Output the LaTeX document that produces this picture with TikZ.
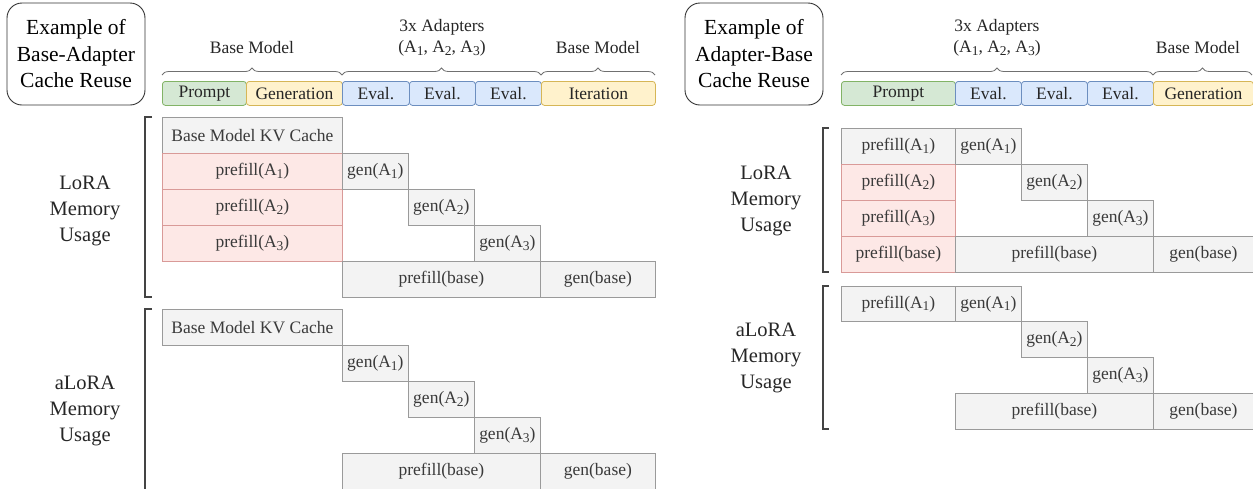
\documentclass[tikz,border=0pt]{standalone}
\usepackage{fontspec}
\setmainfont{Liberation Serif}
\usetikzlibrary{decorations.pathreplacing}
\newcommand\mysub[1]{\raisebox{-0.32ex}{\fontsize{13.5}{14}\selectfont #1}}
\definecolor{cellgray}{HTML}{F3F3F3}
\definecolor{cellline}{HTML}{9A9A9A}
\definecolor{redfill}{HTML}{FDE8E6}
\definecolor{redline}{HTML}{D99A98}
\definecolor{greenfill}{HTML}{D5E8D4}
\definecolor{greenline}{HTML}{82B366}
\definecolor{yellowfill}{HTML}{FFF2CC}
\definecolor{yellowline}{HTML}{D6B656}
\definecolor{bluefill}{HTML}{DAE8FC}
\definecolor{blueline}{HTML}{6C8EBF}
\definecolor{txt}{HTML}{3A3A3A}
\definecolor{bracecol}{HTML}{707070}
\definecolor{bracketcol}{HTML}{444444}
\tikzset{
  cell/.style={draw=cellline, fill=cellgray, line width=0.8pt, inner sep=0pt, anchor=north west,
    minimum height=36pt, text=txt, font=\fontsize{17.5}{20}\selectfont},
  redcell/.style={cell, draw=redline, fill=redfill},
  hdr/.style={rounded corners=3pt, line width=0.8pt, inner sep=0pt, anchor=north west,
    minimum height=24pt, text=black!85, font=\fontsize{17.5}{20}\selectfont},
  prompthdr/.style={hdr, draw=greenline, fill=greenfill},
  genhdr/.style={hdr, draw=yellowline, fill=yellowfill},
  evalhdr/.style={hdr, draw=blueline, fill=bluefill},
  titlebox/.style={draw=black!80, line width=0.9pt, rounded corners=15pt, minimum width=138pt,
    minimum height=102pt, align=center, font=\fontsize{21.5}{26.5}\selectfont},
  bracelabel/.style={align=center, text=black!85, font=\fontsize{17.5}{21}\selectfont},
  memlabel/.style={align=center, text=black!85, font=\fontsize{20.5}{26}\selectfont},
  bracedeco/.style={decorate, decoration={brace, amplitude=7pt}, draw=bracecol, line width=0.8pt},
  bracketline/.style={draw=bracketcol, line width=1.3pt},
}
\begin{document}
\begin{tikzpicture}[x=1pt, y=-1pt]
\useasboundingbox (0,0) rectangle (1253,488);
\clip (0,0) rectangle (1253,488);

% ---------------- Left panel ----------------
\node[titlebox] (ltitle) at (76,54) {Example of\\Base-Adapter\\Cache Reuse};

\node[prompthdr, minimum width=84pt] (lh1) at (162,81) {Prompt};
\node[genhdr, minimum width=96pt] (lh2) at (246,81) {Generation};
\node[evalhdr, minimum width=67pt] (lh3) at (342,81) {Eval.};
\node[evalhdr, minimum width=66pt] (lh4) at (409,81) {Eval.};
\node[evalhdr, minimum width=66pt] (lh5) at (475,81) {Eval.};
\node[genhdr, minimum width=114pt] (lh6) at (541,81) {Iteration};

\coordinate (lb1a) at (162,75); \coordinate (lb1b) at (342,75);
\coordinate (lb2a) at (342,75); \coordinate (lb2b) at (541,75);
\coordinate (lb3a) at (541,75); \coordinate (lb3b) at (655,75);
\draw[bracedeco] (lb1a) -- (lb1b);
\draw[bracedeco] (lb2a) -- (lb2b);
\draw[bracedeco] (lb3a) -- (lb3b);
\node[bracelabel] (lbl1) at (252,48) {Base Model};
\node[bracelabel] (lbl2) at (442,38) {3x Adapters\\(A\mysub{1}, A\mysub{2}, A\mysub{3})};
\node[bracelabel] (lbl3) at (598,48) {Base Model};

% Left LoRA
\node[memlabel] (llora) at (85,211) {LoRA\\Memory\\Usage};
\draw[bracketline] (152,117) -- (145,117) -- (145,297) -- (152,297);
\node[cell, minimum width=180pt] (lkv) at (162,117) {Base Model KV Cache};
\node[redcell, minimum width=180pt] (lpa1) at (162,153) {prefill(A\mysub{1})};
\node[redcell, minimum width=180pt] (lpa2) at (162,189) {prefill(A\mysub{2})};
\node[redcell, minimum width=180pt] (lpa3) at (162,225) {prefill(A\mysub{3})};
\node[cell, minimum width=66pt] (lg1) at (342,153) {gen(A\mysub{1})};
\node[cell, minimum width=66pt] (lg2) at (408,189) {gen(A\mysub{2})};
\node[cell, minimum width=66pt] (lg3) at (474,225) {gen(A\mysub{3})};
\node[cell, minimum width=198pt] (lpb) at (342,261) {prefill(base)};
\node[cell, minimum width=115pt] (lgb) at (540,261) {gen(base)};

% Left aLoRA
\node[memlabel] (lalora) at (85,411) {aLoRA\\Memory\\Usage};
\draw[bracketline] (152,309) -- (145,309) -- (145,500);
\node[cell, minimum width=180pt] (akv) at (162,309) {Base Model KV Cache};
\node[cell, minimum width=66pt] (ag1) at (342,345) {gen(A\mysub{1})};
\node[cell, minimum width=66pt] (ag2) at (408,381) {gen(A\mysub{2})};
\node[cell, minimum width=66pt] (ag3) at (474,417) {gen(A\mysub{3})};
\node[cell, minimum width=198pt] (apb) at (342,453) {prefill(base)};
\node[cell, minimum width=115pt] (agb) at (540,453) {gen(base)};

% ---------------- Right panel ----------------
\node[titlebox] (rtitle) at (754,54) {Example of\\Adapter-Base\\Cache Reuse};

\node[prompthdr, minimum width=114pt] (rh1) at (841,81) {Prompt};
\node[evalhdr, minimum width=66pt] (rh2) at (955,81) {Eval.};
\node[evalhdr, minimum width=66pt] (rh3) at (1021,81) {Eval.};
\node[evalhdr, minimum width=66pt] (rh4) at (1087,81) {Eval.};
\node[genhdr, minimum width=100pt] (rh5) at (1153,81) {Generation};

\coordinate (rb1a) at (841,75); \coordinate (rb1b) at (1153,75);
\coordinate (rb2a) at (1153,75); \coordinate (rb2b) at (1252,75);
\draw[bracedeco] (rb1a) -- (rb1b);
\draw[bracedeco] (rb2a) -- (rb2b);
\node[bracelabel] (rbl1) at (997,38) {3x Adapters\\(A\mysub{1}, A\mysub{2}, A\mysub{3})};
\node[bracelabel] (rbl2) at (1198,48) {Base Model};

% Right LoRA
\node[memlabel] (rlora) at (766,201) {LoRA\\Memory\\Usage};
\draw[bracketline] (829,128) -- (823,128) -- (823,272) -- (829,272);
\node[cell, minimum width=114pt] (rpa1) at (841,128) {prefill(A\mysub{1})};
\node[redcell, minimum width=114pt] (rpa2) at (841,164) {prefill(A\mysub{2})};
\node[redcell, minimum width=114pt] (rpa3) at (841,200) {prefill(A\mysub{3})};
\node[redcell, minimum width=114pt] (rpab) at (841,236) {prefill(base)};
\node[cell, minimum width=66pt] (rg1) at (955,128) {gen(A\mysub{1})};
\node[cell, minimum width=66pt] (rg2) at (1021,164) {gen(A\mysub{2})};
\node[cell, minimum width=66pt] (rg3) at (1087,200) {gen(A\mysub{3})};
\node[cell, minimum width=198pt] (rpb) at (955,236) {prefill(base)};
\node[cell, minimum width=100pt] (rgb) at (1153,236) {gen(base)};

% Right aLoRA
\node[memlabel] (ralora) at (766,358) {aLoRA\\Memory\\Usage};
\draw[bracketline] (829,286) -- (823,286) -- (823,429) -- (829,429);
\node[cell, minimum width=114pt, minimum height=35pt] (bpa1) at (841,286) {prefill(A\mysub{1})};
\node[cell, minimum width=66pt, minimum height=35pt] (bg1) at (955,286) {gen(A\mysub{1})};
\node[cell, minimum width=66pt, minimum height=36pt] (bg2) at (1021,321) {gen(A\mysub{2})};
\node[cell, minimum width=66pt, minimum height=36pt] (bg3) at (1087,357) {gen(A\mysub{3})};
\node[cell, minimum width=198pt, minimum height=36pt] (bpb) at (955,393) {prefill(base)};
\node[cell, minimum width=100pt, minimum height=36pt] (bgb) at (1153,393) {gen(base)};
\end{tikzpicture}
\end{document}
